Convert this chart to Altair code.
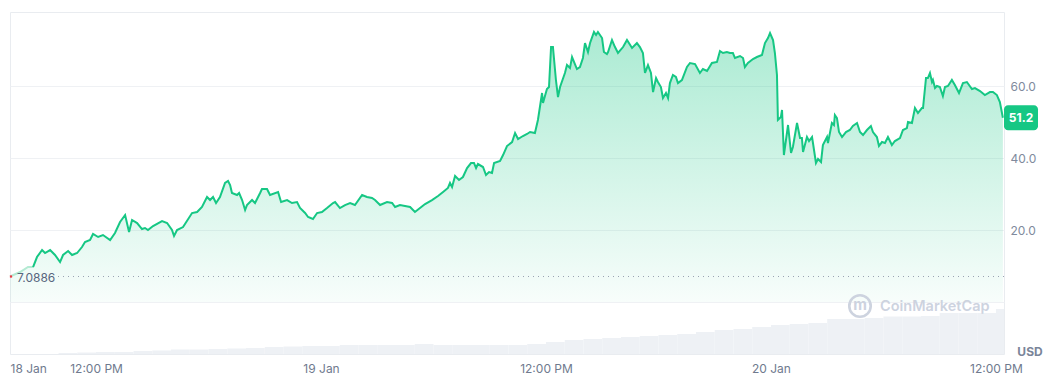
import altair as alt
import pandas as pd

# Price series: hours since 18 Jan 00:00 and price in USD
hours = [
    7.41, 7.95, 8.37, 8.64, 8.85, 9.12, 9.28, 9.55, 9.81, 10.08,
    10.24, 10.51, 10.72, 10.99, 11.25, 11.41, 11.68, 11.84, 12.11, 12.37,
    12.75, 13.01, 13.28, 13.55, 13.76, 13.92, 14.19, 14.45, 14.61, 14.77,
    15.04, 15.52, 15.79, 16.05, 16.16, 16.32, 16.64, 17.12, 17.39, 17.65,
    17.92, 18.08, 18.24, 18.40, 18.61, 18.88, 19.04, 19.15, 19.25, 19.52,
    19.63, 19.79, 19.95, 20.05, 20.32, 20.48, 20.75, 20.85, 21.12, 21.28,
    21.71, 21.87, 22.19, 22.45, 22.72, 22.88, 23.15, 23.31, 23.57, 23.79,
    24.05, 24.32, 24.64, 24.75, 25.01, 25.28, 25.55, 25.81, 26.19, 26.45,
    26.72, 26.88, 27.15, 27.52, 27.79, 27.95, 28.21, 28.48, 28.75, 29.01,
    29.28, 29.55, 29.92, 30.24, 30.51, 30.77, 30.88, 30.99, 31.15, 31.36,
    31.57, 31.79, 32.00, 32.16, 32.27, 32.37, 32.64, 32.80, 32.96, 33.12,
    33.23, 33.55, 33.71, 33.92, 34.19, 34.35, 34.51, 34.77, 34.99, 35.15,
    35.41, 35.57, 35.79, 35.84, 36.05, 36.16, 36.27, 36.37, 36.53, 36.64,
    36.75, 37.01, 37.12, 37.28, 37.39, 37.65, 37.81, 37.97, 38.08, 38.24,
    38.35, 38.56, 38.67, 38.77, 38.99, 39.09, 39.25, 39.31, 39.52, 39.68,
    39.84, 40.11, 40.32, 40.59, 40.85, 41.01, 41.17, 41.28, 41.44, 41.60,
    41.71, 41.87, 41.97, 42.13, 42.24, 42.40, 42.51, 42.61, 42.77, 42.93,
    43.04, 43.25, 43.52, 43.68, 43.95, 44.21, 44.37, 44.59, 44.85, 45.12,
    45.28, 45.44, 45.65, 45.81, 45.97, 46.08, 46.35, 46.51, 46.61, 46.77,
    47.04, 47.25, 47.52, 47.68, 47.84, 47.95, 48.11, 48.21, 48.32, 48.37,
    48.53, 48.59, 48.69, 48.91, 49.07, 49.17, 49.39, 49.55, 49.65, 49.71,
    49.92, 50.03, 50.19, 50.24, 50.40, 50.51, 50.67, 50.77, 50.99, 51.04,
    51.25, 51.36, 51.41, 51.52, 51.63, 51.79, 52.00, 52.21, 52.37, 52.59,
    52.75, 52.91, 53.12, 53.33, 53.44, 53.65, 53.76, 53.92, 54.08, 54.24,
    54.45, 54.61, 54.88, 55.04, 55.25, 55.31, 55.52, 55.68, 55.84, 56.05,
    56.11, 56.27, 56.37, 56.48, 56.59, 56.64, 56.75, 56.85, 57.01, 57.17,
    57.28, 57.44, 57.65, 57.81, 58.03, 58.24, 58.45, 58.72, 58.88, 59.15,
    59.41, 59.68, 59.84, 60.05, 60.21, 60.37,
]
prices = [
    7.09, 8.33, 9.72, 9.72, 12.5, 14.44, 13.61, 14.44, 13.06, 11.11,
    13.06, 14.17, 13.06, 13.61, 15.28, 16.67, 17.22, 18.89, 18.06, 18.61,
    17.22, 19.17, 22.22, 24.17, 19.44, 22.78, 21.94, 20.28, 20.56, 20.0,
    21.11, 22.5, 21.94, 20.0, 18.33, 20.0, 20.83, 24.72, 25.0, 26.39,
    29.17, 28.33, 29.17, 27.5, 29.17, 33.06, 33.61, 32.5, 30.28, 29.72,
    30.28, 28.33, 25.56, 26.94, 28.33, 27.5, 30.28, 31.39, 31.39, 29.72,
    30.56, 27.78, 28.33, 27.5, 27.78, 26.11, 24.72, 23.61, 23.06, 24.72,
    25.0, 26.11, 27.5, 27.78, 26.11, 26.94, 27.5, 26.94, 29.72, 29.17,
    28.89, 28.33, 26.94, 27.78, 27.5, 26.39, 26.94, 26.67, 26.39, 25.0,
    26.11, 27.22, 28.33, 29.44, 30.56, 31.67, 33.06, 31.94, 35.0, 33.89,
    34.72, 37.22, 38.61, 38.61, 37.22, 38.33, 37.5, 35.28, 36.11, 35.83,
    38.61, 39.17, 40.83, 43.33, 44.44, 46.94, 45.28, 46.11, 46.67, 47.22,
    46.94, 50.56, 58.06, 55.28, 59.17, 59.72, 70.83, 70.83, 61.67, 56.94,
    59.72, 63.61, 65.83, 65.0, 68.06, 64.72, 65.28, 67.78, 71.94, 69.44,
    71.94, 75.0, 74.17, 75.0, 73.33, 69.44, 68.89, 69.44, 72.78, 70.83,
    69.17, 70.83, 72.78, 70.56, 71.94, 70.83, 69.17, 63.61, 65.83, 63.61,
    58.33, 62.22, 61.11, 59.72, 56.67, 58.06, 56.67, 60.83, 63.06, 62.5,
    60.83, 61.67, 65.28, 66.39, 66.11, 63.61, 64.72, 64.17, 66.39, 66.67,
    69.72, 69.17, 69.44, 69.17, 69.17, 67.78, 68.33, 67.78, 65.28, 66.39,
    67.5, 68.06, 68.61, 71.94, 73.33, 74.72, 72.78, 69.17, 63.06, 50.56,
    51.39, 53.33, 40.83, 49.17, 41.39, 43.06, 49.72, 45.56, 45.56, 41.67,
    45.83, 44.72, 45.83, 44.17, 38.61, 39.72, 38.89, 43.61, 45.83, 44.17,
    49.72, 49.17, 51.94, 51.11, 47.22, 45.83, 47.22, 47.78, 48.89, 49.72,
    47.22, 46.39, 47.78, 48.89, 47.22, 45.83, 43.33, 44.44, 44.17, 45.83,
    43.61, 44.72, 45.56, 47.78, 48.33, 50.0, 49.72, 53.89, 52.5, 53.89,
    53.89, 62.22, 62.22, 63.61, 61.11, 61.67, 59.44, 60.0, 59.72, 57.22,
    59.72, 60.0, 61.67, 60.28, 58.06, 60.83, 61.11, 59.17, 59.44, 58.61,
    57.5, 58.33, 58.33, 57.5, 55.56, 51.2,
]
assert len(hours) == len(prices)

# Hourly volume (thousand USD), hour start
vol_hours = list(range(10, 61))
volumes = [
    10, 15, 20, 20, 30, 35, 45, 45, 50, 55,
    60, 70, 75, 80, 80, 90, 90, 90, 90, 100,
    90, 90, 90, 90, 90, 100, 120, 140, 150, 160,
    170, 180, 190, 200, 220, 240, 250, 270, 290, 300,
    310, 350, 350, 360, 375, 375, 380, 410, 410, 410,
    450,
]

open_price = 7.0886
last_price = 51.2
x_tick_values = [7.41, 12, 24, 36, 48, 60]
y_tick_values = [0, 20, 40, 60]

GREEN = "#16c784"
FONT = "Inter"

df_price = pd.DataFrame({"h": hours, "p": prices})
df_vol = pd.DataFrame({"h": vol_hours, "v": volumes})
df_open = pd.DataFrame({"p": [open_price], "label": [f"{open_price:.4f}"]})
df_last = pd.DataFrame({"p": [last_price], "label": [f"{last_price:.1f}"]})

x_scale = alt.Scale(domain=[7.41, 60.43], nice=False, zero=False)
y_scale = alt.Scale(domain=[-14.44, 80.56], nice=False, zero=False)

x_axis = alt.Axis(
    title=None, values=x_tick_values, ticks=False, domain=False, grid=False,
    labelExpr="datum.value < 8 ? '18 Jan' : datum.value == 24 ? '19 Jan' : datum.value == 48 ? '20 Jan' : '12:00 PM'",
    labelAlign={"expr": "datum.value < 8 ? 'left' : 'center'"},
    labelPadding=9, labelColor="#6f7a8e", labelFontSize=12, labelFont=FONT,
    labelOverlap=False,
)
y_axis = alt.Axis(
    title=None, orient="right", values=y_tick_values, ticks=False, domain=False,
    grid=True, gridColor="#eff1f4", gridWidth=1,
    labelExpr="datum.value == 0 ? '' : format(datum.value, '.1f')",
    labelPadding=6, labelColor="#808a9d", labelFontSize=12, labelFont=FONT,
)

X = alt.X("h:Q", scale=x_scale, axis=x_axis)
Y = alt.Y("p:Q", scale=y_scale, axis=y_axis)

area = alt.Chart(df_price).mark_area(
    color=alt.Gradient(
        gradient="linear",
        stops=[
            alt.GradientStop(color="rgba(22,199,132,0.36)", offset=0),
            alt.GradientStop(color="rgba(22,199,132,0.03)", offset=1),
        ],
        x1=1, x2=1, y1=0, y2=1,
    )
).encode(x=X, y=Y, y2=alt.datum(0))

line_pre = alt.Chart(df_price).transform_filter("datum.h <= 8.7").mark_line(
    color="#b4ead3", strokeWidth=2
).encode(x=X, y=Y)

line = alt.Chart(df_price).transform_filter("datum.h >= 8.6").mark_line(
    color=GREEN, strokeWidth=2
).encode(x=X, y=Y)

open_rule = alt.Chart(df_open).mark_rule(
    color="#9aa3b3", strokeDash=[1, 4], strokeWidth=1.2
).encode(x=alt.value(48), x2=alt.value(994), y=Y)

open_mark = alt.Chart(df_open).mark_point(
    shape="square", size=5, filled=True, color="#ea3943", opacity=1
).encode(x=alt.value(1), y=Y)

open_text = alt.Chart(df_open).mark_text(
    align="left", baseline="middle", dy=2, font=FONT, fontSize=12, color="#58667e"
).encode(x=alt.value(7), y=Y, text="label:N")

badge = alt.Chart(df_last).transform_calculate(
    top="datum.p + 3.47", bot="datum.p - 3.47"
).mark_rect(color=GREEN, cornerRadius=4).encode(
    x=alt.value(994), x2=alt.value(1028),
    y=alt.Y("top:Q", scale=y_scale, axis=y_axis), y2="bot:Q",
)

badge_text = alt.Chart(df_last).mark_text(
    align="center", baseline="middle", font=FONT, fontSize=12,
    fontWeight="bold", color="white",
).encode(x=alt.value(1011), y=Y, text="label:N")

wm_df = pd.DataFrame({"t": ["CoinMarketCap"]})
wm_logo = alt.Chart(wm_df).mark_point(
    shape="circle", size=460, filled=False, strokeWidth=2.6, color="#cdd3df", opacity=1
).encode(x=alt.value(850), y=alt.value(294))
wm_logo_m = alt.Chart(wm_df).mark_text(
    text="m", font=FONT, fontSize=15, fontWeight="bold", color="#cdd3df",
    baseline="middle", align="center",
).encode(x=alt.value(850), y=alt.value(293))
wm_text = alt.Chart(wm_df).mark_text(
    align="left", baseline="middle", font=FONT, fontSize=14.5, fontWeight=600,
    color="#cdd3df",
).encode(x=alt.value(870), y=alt.value(295), text="t:N")

usd = alt.Chart(pd.DataFrame({"t": ["USD"]})).mark_text(
    align="center", baseline="middle", font=FONT, fontSize=12, fontWeight="bold",
    color="#7a8599",
).encode(x=alt.value(1020), y=alt.value(340), text="t:N")

vol = alt.Chart(df_vol).transform_calculate(h_end="datum.h + 1").mark_bar(
    color="#eef1f5", clip=True
).encode(
    x=alt.X("h:Q", scale=x_scale, axis=x_axis),
    x2="h_end:Q",
    y=alt.Y("v:Q", scale=alt.Scale(domain=[0, 3420], nice=False), axis=None),
    y2=alt.datum(0),
)

price_group = alt.layer(
    area, line_pre, line, open_rule, open_mark, open_text, badge, badge_text,
    wm_logo, wm_logo_m, wm_text, usd,
)

chart = alt.layer(vol, price_group).resolve_scale(y="independent").properties(
    width=994, height=342,
    padding={"left": 2, "top": 4, "right": 40, "bottom": 30},
    autosize=alt.AutoSizeParams(type="none"),
    background="white",
).configure_view(stroke="#e9ecf0", strokeWidth=1)

chart.save("out.html", embed_options={"renderer": "svg", "actions": False})
